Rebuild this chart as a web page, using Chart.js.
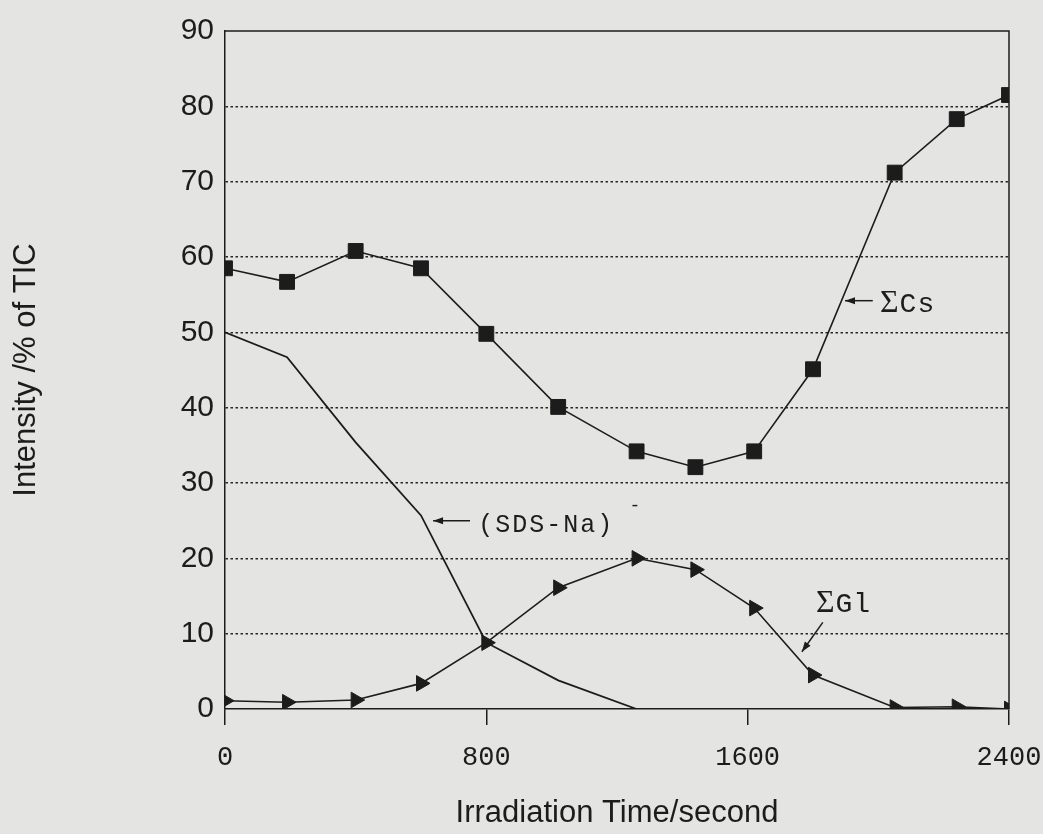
<!DOCTYPE html>
<html lang="en">
<head>
<meta charset="UTF-8">
<title>Intensity vs Irradiation Time</title>
<script src="https://cdn.jsdelivr.net/npm/chart.js"></script>
<style>
  html, body { margin: 0; padding: 0; background: #e4e4e2; }
</style>
</head>
<body>
<canvas id="tic" width="1043" height="834"></canvas>
<script>
  // irradiation times in seconds
  const times = [0, 190, 400, 600, 800, 1020, 1260, 1440, 1620, 1800, 2050, 2240, 2400];
  // intensities, % of TIC
  const sumCs = [58.5, 56.7, 60.8, 58.5, 49.8, 40.1, 34.2, 32.1, 34.2, 45.1, 71.2, 78.3, 81.5];
  const sumGl = [1.1, 0.9, 1.2, 3.4, 8.8, 16.1, 20.0, 18.5, 13.4, 4.5, 0.2, 0.3, 0];
  const sdsNa = [50, 46.7, 35.4, 25.7, 8.8, 3.8, 0, 0, 0, 0, 0, 0, 0];
  const xTicks = [0, 800, 1600, 2400];

  const ink = '#1c1c1c';
  const pts = arr => arr.map((v, i) => ({ x: times[i], y: v }));

  // page tone behind everything
  const paper = {
    id: 'paper',
    beforeDraw(chart) {
      const ctx = chart.ctx;
      ctx.save();
      ctx.fillStyle = '#e4e4e2';
      ctx.fillRect(0, 0, chart.width, chart.height);
      ctx.restore();
    }
  };

  // top and right edges of the plot box
  const frame = {
    id: 'frame',
    afterDraw(chart) {
      const { ctx, chartArea: a } = chart;
      ctx.save();
      ctx.strokeStyle = ink;
      ctx.lineWidth = 1.5;
      ctx.beginPath();
      ctx.moveTo(a.left, a.top);
      ctx.lineTo(a.right, a.top);
      ctx.lineTo(a.right, a.bottom);
      ctx.stroke();
      ctx.restore();
    }
  };

  function arrow(ctx, x1, y1, x2, y2) {
    const ang = Math.atan2(y2 - y1, x2 - x1);
    const c = Math.cos(ang), s = Math.sin(ang);
    ctx.beginPath();
    ctx.moveTo(x1, y1);
    ctx.lineTo(x2, y2);
    ctx.stroke();
    ctx.beginPath();
    ctx.moveTo(x2, y2);
    ctx.lineTo(x2 - 10 * c + 3.5 * s, y2 - 10 * s - 3.5 * c);
    ctx.lineTo(x2 - 10 * c - 3.5 * s, y2 - 10 * s + 3.5 * c);
    ctx.closePath();
    ctx.fill();
  }

  // Σ in a serif face followed by the name in typewriter face
  function sigmaLabel(ctx, name, px, py) {
    ctx.font = '32px "Liberation Serif"';
    ctx.letterSpacing = '0px';
    ctx.fillText('Σ', px, py);
    const w = ctx.measureText('Σ').width;
    ctx.font = '28px "Liberation Mono"';
    ctx.letterSpacing = '1px';
    ctx.fillText(name, px + w + 1, py);
    ctx.letterSpacing = '0px';
  }

  // series labels with pointer arrows
  const notes = {
    id: 'notes',
    afterDatasetsDraw(chart) {
      const { ctx, scales: { x, y } } = chart;
      ctx.save();
      ctx.fillStyle = ink;
      ctx.strokeStyle = ink;
      ctx.lineWidth = 1.5;
      ctx.textBaseline = 'alphabetic';

      // (SDS-Na)-
      arrow(ctx, x.getPixelForValue(750), y.getPixelForValue(25), x.getPixelForValue(637), y.getPixelForValue(25));
      ctx.font = '25px "Liberation Mono"';
      ctx.letterSpacing = '2px';
      ctx.fillText('(SDS-Na)', x.getPixelForValue(775), y.getPixelForValue(23.5));
      ctx.letterSpacing = '0px';
      ctx.font = '18px "Liberation Mono"';
      ctx.fillText('-', x.getPixelForValue(1238), y.getPixelForValue(26.3));

      // ΣCs
      arrow(ctx, x.getPixelForValue(1983), y.getPixelForValue(54.2), x.getPixelForValue(1898), y.getPixelForValue(54.2));
      sigmaLabel(ctx, 'Cs', x.getPixelForValue(2005), y.getPixelForValue(52.7));

      // ΣGl
      sigmaLabel(ctx, 'Gl', x.getPixelForValue(1809), y.getPixelForValue(12.9));
      arrow(ctx, x.getPixelForValue(1830), y.getPixelForValue(11.5), x.getPixelForValue(1766), y.getPixelForValue(7.6));
      ctx.restore();
    }
  };

  new Chart(document.getElementById('tic'), {
    type: 'line',
    data: {
      datasets: [
        {
          label: '(SDS-Na)-',
          data: pts(sdsNa),
          borderColor: ink,
          borderWidth: 1.8,
          pointRadius: 0
        },
        {
          label: 'ΣGl',
          data: pts(sumGl),
          borderColor: ink,
          borderWidth: 1.6,
          pointStyle: 'triangle',
          rotation: 90,
          pointRadius: 9,
          pointBackgroundColor: ink,
          pointBorderColor: ink,
          pointBorderWidth: 1
        },
        {
          label: 'ΣCs',
          data: pts(sumCs),
          borderColor: ink,
          borderWidth: 1.6,
          pointStyle: 'rect',
          pointRadius: 10.5,
          pointBackgroundColor: ink,
          pointBorderColor: ink,
          pointBorderWidth: 1
        }
      ]
    },
    options: {
      responsive: false,
      devicePixelRatio: 1,
      animation: false,
      layout: { padding: { left: 0, right: 34, top: 31, bottom: 0 } },
      plugins: {
        legend: { display: false },
        tooltip: { enabled: false }
      },
      scales: {
        x: {
          type: 'linear',
          min: 0,
          max: 2400,
          afterBuildTicks: axis => { axis.ticks = xTicks.map(v => ({ value: v })); },
          afterFit: scale => {
            scale.height = 125;
            scale.paddingLeft = 0;
            scale.paddingRight = 0;
          },
          grid: { drawOnChartArea: false, drawTicks: true, tickLength: 16, color: ink, lineWidth: 1.5 },
          border: { color: ink, width: 1.5 },
          ticks: {
            font: { family: 'Liberation Mono', size: 27 },
            color: ink,
            padding: 17,
            maxRotation: 0,
            autoSkip: false,
            callback: v => String(v)
          },
          title: {
            display: true,
            text: 'Irradiation Time/second',
            font: { family: 'Liberation Sans', size: 31 },
            color: ink,
            padding: { top: 0, bottom: 2 }
          }
        },
        y: {
          min: 0,
          max: 90,
          afterFit: scale => { scale.width = 225; },
          grid: {
            drawTicks: false,
            color: ctx => (ctx.tick.value === 0 || ctx.tick.value === 90) ? 'rgba(0,0,0,0)' : '#262626',
            lineWidth: 1.5
          },
          // dotted horizontal grid
          border: { color: ink, width: 1.5, dash: [2.5, 2.5] },
          ticks: {
            stepSize: 10,
            font: { family: 'Liberation Sans', size: 30 },
            color: ink,
            padding: 11
          },
          title: {
            display: true,
            text: 'Intensity /% of TIC',
            font: { family: 'Liberation Sans', size: 31 },
            color: ink,
            padding: { top: 8, bottom: 0 }
          }
        }
      }
    },
    plugins: [paper, frame, notes]
  });
</script>
</body>
</html>
